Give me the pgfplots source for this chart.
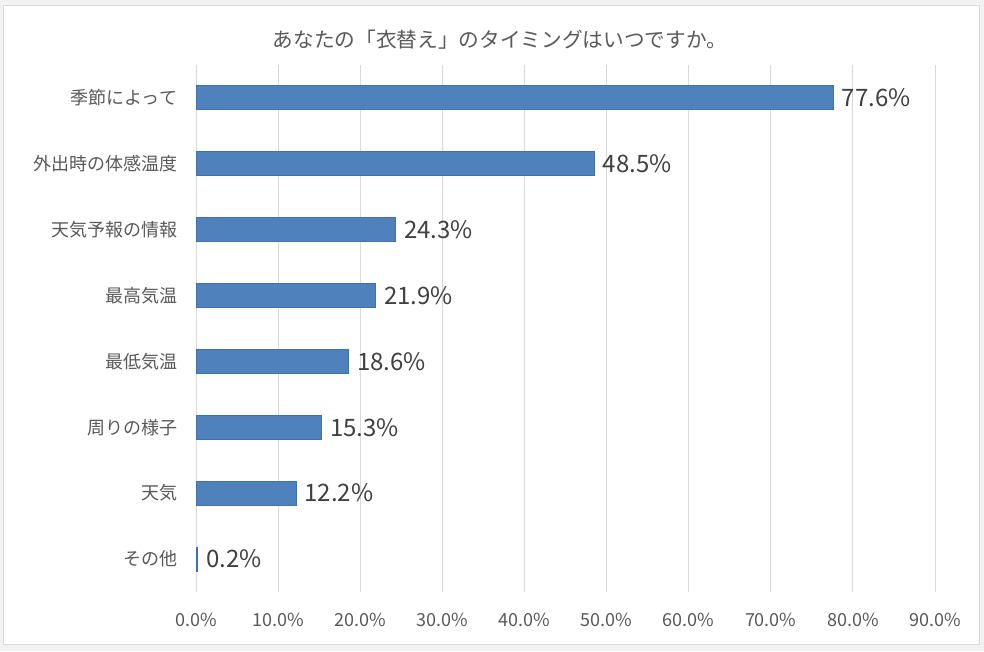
\documentclass[border=0pt]{standalone}
\usepackage{fontspec}
\setmainfont{Noto Sans CJK JP}
\usepackage{pgfplots}
\pgfplotsset{compat=1.18}
\definecolor{barblue}{RGB}{79,129,189}
\definecolor{baredge}{RGB}{65,113,170}
\definecolor{txtgray}{RGB}{89,89,89}
\definecolor{lblgray}{RGB}{64,64,64}
\definecolor{gridgray}{RGB}{217,217,217}
\definecolor{outergray}{RGB}{242,242,242}
\begin{document}
\begin{tikzpicture}
\useasboundingbox (0,0) rectangle (738pt,488.25pt);
\fill[outergray] (0,0) rectangle (738pt,488.25pt);
\filldraw[fill=white,draw=gridgray,line width=0.75pt] (2.25pt,5.25pt) rectangle (734.25pt,483.75pt);
\node[font=\fontsize{15.5pt}{18pt}\selectfont,text=txtgray,anchor=center] at (375pt,458.25pt) {あなたの「衣替え」のタイミングはいつですか。};
\begin{axis}[
  at={(147pt,44.25pt)}, anchor=south west,
  scale only axis, width=554.25pt, height=395.25pt,
  xbar, bar width=18pt,
  xmin=0, xmax=90, ymin=-0.5, ymax=7.5,
  xtick={0,10,20,30,40,50,60,70,80,90},
  xticklabels={0.0\%,10.0\%,20.0\%,30.0\%,40.0\%,50.0\%,60.0\%,70.0\%,80.0\%,90.0\%},
  ytick={0,1,2,3,4,5,6,7},
  yticklabels={その他,天気,周りの様子,最低気温,最高気温,天気予報の情報,外出時の体感温度,季節によって},
  xmajorgrids, major grid style={gridgray, line width=0.75pt},
  axis line style={draw=none},
  major tick length=0pt,
  tick style={draw=none},
  xticklabel style={font=\fontsize{13.5pt}{16pt}\selectfont, text=txtgray, anchor=center, yshift=-21pt, inner sep=0pt},
  yticklabel style={font=\fontsize{13.5pt}{16pt}\selectfont, text=txtgray, anchor=east, inner sep=0pt, xshift=-14pt},
  nodes near coords={\pgfmathprintnumber[fixed,fixed zerofill,precision=1,assume math mode=true]{\pgfplotspointmeta}\%},
  nodes near coords style={font=\fontsize{18pt}{21pt}\selectfont, text=lblgray, anchor=west, inner sep=0pt, xshift=6pt},
  point meta=x,
]
\addplot[fill=barblue, draw=baredge, line width=0.75pt] coordinates {
  (0.2,0) (12.2,1) (15.3,2) (18.6,3) (21.9,4) (24.3,5) (48.5,6) (77.6,7)
};
\end{axis}
\end{tikzpicture}
\end{document}
